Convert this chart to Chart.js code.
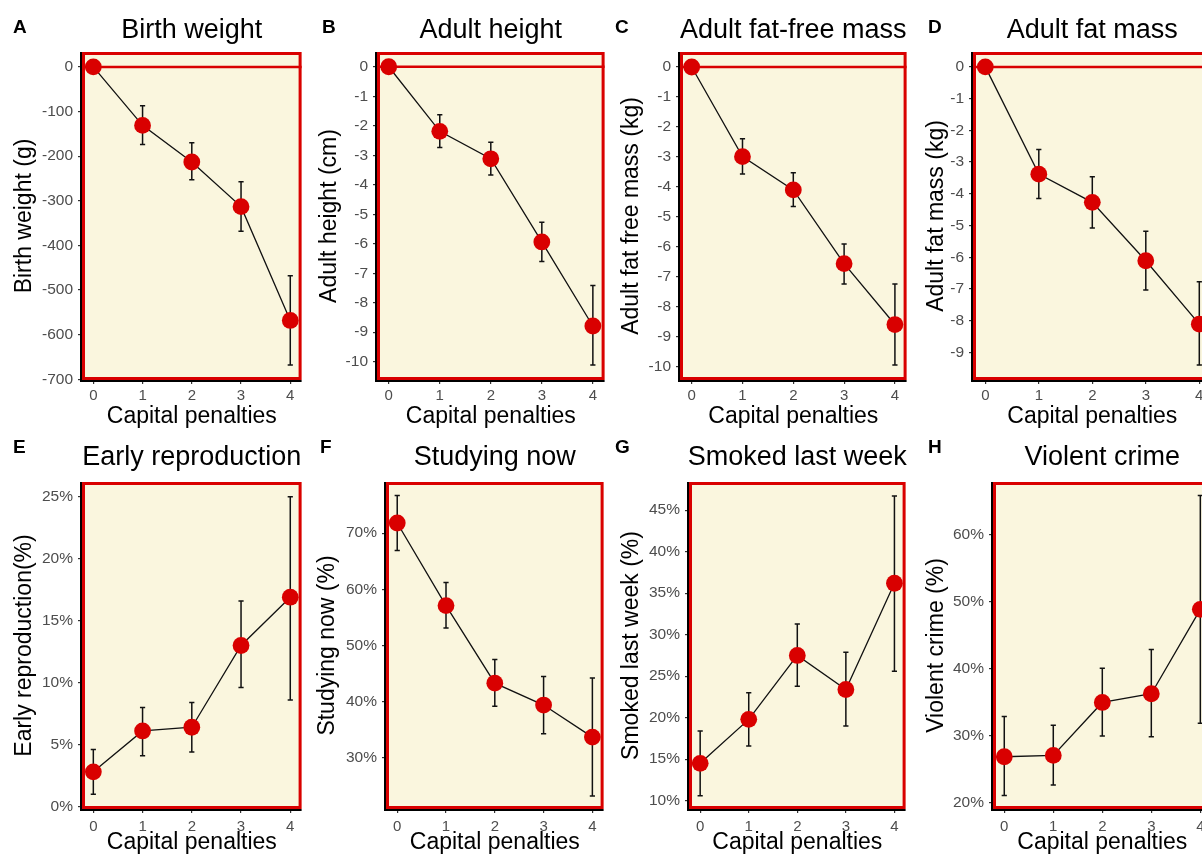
<!DOCTYPE html>
<html><head><meta charset="utf-8">
<script src="https://cdn.jsdelivr.net/npm/chart.js@4/dist/chart.umd.min.js"></script>
<style>
html,body{margin:0;padding:0;background:#fff;overflow:hidden;width:1202px;height:859px;}
#wrap{position:relative;width:1202px;height:859px;overflow:hidden;background:#fff;}
canvas{position:absolute;}
</style></head><body><div id="wrap"></div>
<script>
// ---------- data ----------
const penalties = [0, 1, 2, 3, 4];
const xTickValues = [0, 1, 2, 3, 4];
const xAxisTitle = 'Capital penalties';

const birthWeight      = [0, -131, -213, -313, -568];
const birthWeightHi    = [null, -87, -170, -257, -468];
const birthWeightLo    = [null, -174, -253, -368, -668];
const birthWeightTicks = [0, -100, -200, -300, -400, -500, -600, -700];

const adultHeight      = [0, -2.19, -3.12, -5.94, -8.79];
const adultHeightHi    = [null, -1.63, -2.56, -5.27, -7.42];
const adultHeightLo    = [null, -2.74, -3.67, -6.60, -10.11];
const adultHeightTicks = [0, -1, -2, -3, -4, -5, -6, -7, -8, -9, -10];

const fatFreeMass      = [0, -2.99, -4.10, -6.56, -8.59];
const fatFreeMassHi    = [null, -2.39, -3.53, -5.90, -7.24];
const fatFreeMassLo    = [null, -3.57, -4.65, -7.24, -9.94];
const fatFreeMassTicks = [0, -1, -2, -3, -4, -5, -6, -7, -8, -9, -10];

const fatMass          = [0, -3.38, -4.27, -6.11, -8.11];
const fatMassHi        = [null, -2.60, -3.46, -5.18, -6.77];
const fatMassLo        = [null, -4.15, -5.08, -7.03, -9.40];
const fatMassTicks     = [0, -1, -2, -3, -4, -5, -6, -7, -8, -9];

const earlyRepro       = [2.8, 6.1, 6.4, 13.0, 16.9];
const earlyReproHi     = [4.6, 8.0, 8.4, 16.6, 25.0];
const earlyReproLo     = [1.0, 4.1, 4.4, 9.6, 8.6];
const earlyReproTicks  = [0, 5, 10, 15, 20, 25];

const studyingNow      = [71.8, 57.1, 43.3, 39.4, 33.7];
const studyingNowHi    = [76.7, 61.2, 47.5, 44.5, 44.2];
const studyingNowLo    = [66.9, 53.1, 39.2, 34.3, 23.2];
const studyingNowTicks = [30, 40, 50, 60, 70];

const smoked           = [14.5, 19.8, 27.5, 23.4, 36.2];
const smokedHi         = [18.4, 23.0, 31.3, 27.9, 46.7];
const smokedLo         = [10.6, 16.6, 23.8, 19.0, 25.6];
const smokedTicks      = [10, 15, 20, 25, 30, 35, 40, 45];

const violentCrime     = [26.8, 27.0, 34.9, 36.2, 48.8];
const violentCrimeHi   = [32.8, 31.5, 40.0, 42.8, 65.8];
const violentCrimeLo   = [21.0, 22.6, 29.9, 29.8, 31.8];
const violentCrimeTicks= [20, 30, 40, 50, 60];

// ---------- panel definitions ----------
const panels = [
  {letter:'A', title:'Birth weight', yTitle:'Birth weight (g)', v:birthWeight, hi:birthWeightHi, lo:birthWeightLo, ticks:birthWeightTicks, pct:false, zero:true, ymin:-701.4, ymax:33.4,
   cx:0, cy:0, plot:[82,52,302,380], lx:13, ly:33, ty:38},
  {letter:'B', title:'Adult height', yTitle:'Adult height (cm)', v:adultHeight, hi:adultHeightHi, lo:adultHeightLo, ticks:adultHeightTicks, pct:false, zero:true, ymin:-10.62, ymax:0.5,
   cx:305, cy:0, plot:[377,52,605,380], lx:322, ly:33, ty:38},
  {letter:'C', title:'Adult fat-free mass', yTitle:'Adult fat free mass (kg)', v:fatFreeMass, hi:fatFreeMassHi, lo:fatFreeMassLo, ticks:fatFreeMassTicks, pct:false, zero:true, ymin:-10.44, ymax:0.5,
   cx:607, cy:0, plot:[680,52,907,380], lx:615, ly:33, ty:38},
  {letter:'D', title:'Adult fat mass', yTitle:'Adult fat mass (kg)', v:fatMass, hi:fatMassHi, lo:fatMassLo, ticks:fatMassTicks, pct:false, zero:true, ymin:-9.87, ymax:0.47,
   cx:912, cy:0, plot:[973,52,1212,380], lx:928, ly:33, ty:38},
  {letter:'E', title:'Early reproduction', yTitle:'Early reproduction(%)', v:earlyRepro, hi:earlyReproHi, lo:earlyReproLo, ticks:earlyReproTicks, pct:true, zero:false, ymin:-0.2, ymax:26.2,
   cx:0, cy:430, plot:[82,482,302,809], lx:13, ly:453, ty:465},
  {letter:'F', title:'Studying now', yTitle:'Studying now (%)', v:studyingNow, hi:studyingNowHi, lo:studyingNowLo, ticks:studyingNowTicks, pct:true, zero:false, ymin:20.9, ymax:79.1,
   cx:303, cy:430, plot:[386,482,604,809], lx:320, ly:453, ty:465},
  {letter:'G', title:'Smoked last week', yTitle:'Smoked last week (%)', v:smoked, hi:smokedHi, lo:smokedLo, ticks:smokedTicks, pct:true, zero:false, ymin:9.0, ymax:48.4,
   cx:607, cy:430, plot:[689,482,906,809], lx:615, ly:453, ty:465},
  {letter:'H', title:'Violent crime', yTitle:'Violent crime (%)', v:violentCrime, hi:violentCrimeHi, lo:violentCrimeLo, ticks:violentCrimeTicks, pct:true, zero:false, ymin:19.0, ymax:67.8,
   cx:912, cy:430, plot:[993,482,1212,809], lx:928, ly:453, ty:465}
];

const FONT = "'Liberation Sans', Arial, Helvetica, sans-serif";
const RED = '#d90000';
const BG = '#faf6de';
Chart.defaults.font.family = FONT;

const decor = {
  id: 'decor',
  beforeDraw(chart, args, o) {
    const {ctx, chartArea: a} = chart;
    ctx.save();
    ctx.fillStyle = BG;
    ctx.fillRect(a.left, a.top, a.width, a.height);
    ctx.restore();
  },
  beforeDatasetsDraw(chart, args, o) {
    const {ctx, chartArea: a} = chart;
    const xs = chart.scales.x, ys = chart.scales.y;
    ctx.save();
    if (o.zero) {
      const y0 = ys.getPixelForValue(0);
      ctx.strokeStyle = RED; ctx.lineWidth = 2.5;
      ctx.beginPath(); ctx.moveTo(a.left, y0); ctx.lineTo(a.right, y0); ctx.stroke();
    }
    // red panel border
    ctx.strokeStyle = RED; ctx.lineWidth = 3;
    ctx.strokeRect(a.left + 1.5, a.top + 1.5, a.width - 3, a.height - 3);
    // black axis lines (left and bottom)
    ctx.strokeStyle = '#000'; ctx.lineWidth = 2;
    ctx.beginPath();
    ctx.moveTo(a.left - 1, a.top); ctx.lineTo(a.left - 1, a.bottom + 2);
    ctx.moveTo(a.left - 2, a.bottom + 1); ctx.lineTo(a.right, a.bottom + 1);
    ctx.stroke();
    // error bars
    ctx.strokeStyle = '#111'; ctx.lineWidth = 1.5;
    o.lo.forEach((lo, i) => {
      const hi = o.hi[i];
      if (lo === null || hi === null) return;
      const x = xs.getPixelForValue(o.x[i]);
      const y1 = ys.getPixelForValue(hi), y2 = ys.getPixelForValue(lo);
      ctx.beginPath();
      ctx.moveTo(x, y1); ctx.lineTo(x, y2);
      ctx.moveTo(x - 2.6, y1); ctx.lineTo(x + 2.6, y1);
      ctx.moveTo(x - 2.6, y2); ctx.lineTo(x + 2.6, y2);
      ctx.stroke();
    });
    ctx.restore();
  },
  afterDraw(chart, args, o) {
    const {ctx, chartArea: a} = chart;
    ctx.save();
    ctx.fillStyle = '#000';
    ctx.textBaseline = 'alphabetic';
    ctx.font = 'bold 19px ' + FONT;
    ctx.textAlign = 'left';
    ctx.fillText(o.letter, o.lx, o.ly);
    ctx.font = '27px ' + FONT;
    ctx.textAlign = 'center';
    ctx.fillText(o.title, (a.left + a.right) / 2, o.ty);
    ctx.restore();
  }
};

const wrap = document.getElementById('wrap');
panels.forEach(p => {
  const [pl, pt, pr, pb] = p.plot;
  const cw = pr + 8 - p.cx;
  const ch = (p.cy === 0) ? 430 : 429;
  const cv = document.createElement('canvas');
  cv.width = cw; cv.height = ch;
  cv.style.left = p.cx + 'px'; cv.style.top = p.cy + 'px';
  cv.style.width = cw + 'px'; cv.style.height = ch + 'px';
  wrap.appendChild(cv);
  const yAxisW = pl - p.cx;
  const xAxisH = p.cy + ch - pb;
  const rowTwo = p.cy !== 0;
  new Chart(cv, {
    type: 'line',
    data: {
      datasets: [{
        data: penalties.map((x, i) => ({x: x, y: p.v[i]})),
        borderColor: '#111', borderWidth: 1.3, tension: 0,
        pointRadius: 8.4, pointHoverRadius: 8.4, pointBorderWidth: 0,
        pointBackgroundColor: RED, pointBorderColor: RED,
        clip: false
      }]
    },
    options: {
      responsive: false, animation: false, devicePixelRatio: 1,
      events: [],
      layout: {padding: {left: 0, top: pt - p.cy, right: 8, bottom: 0}},
      plugins: {
        legend: {display: false}, title: {display: false}, tooltip: {enabled: false},
        decor: {zero: p.zero, lo: p.lo, hi: p.hi, x: penalties, letter: p.letter, title: p.title, lx: p.lx - p.cx, ly: p.ly - p.cy, ty: p.ty - p.cy}
      },
      scales: {
        x: {
          type: 'linear', min: -0.23, max: 4.23,
          afterBuildTicks: s => { s.ticks = xTickValues.map(v => ({value: v})); },
          afterFit: s => { s.height = xAxisH; },
          grid: {display: true, drawOnChartArea: false, drawTicks: true, tickLength: 4, color: '#333', lineWidth: 1.2},
          border: {display: false},
          ticks: {color: '#4d4d4d', font: {size: 15}, padding: rowTwo ? 4.5 : 3, autoSkip: false, maxRotation: 0},
          title: {display: true, text: xAxisTitle, color: '#000', font: {size: 23}, padding: {top: 0, bottom: rowTwo ? 3 : 0}}
        },
        y: {
          type: 'linear', min: p.ymin, max: p.ymax,
          afterBuildTicks: s => { s.ticks = p.ticks.map(v => ({value: v})); },
          afterFit: s => { s.width = yAxisW; },
          grid: {display: true, drawOnChartArea: false, drawTicks: true, tickLength: 4, color: '#333', lineWidth: 1.2},
          border: {display: false},
          ticks: {color: '#4d4d4d', font: {size: 15.5}, padding: 5, autoSkip: false,
                  callback: v => p.pct ? (v + '%') : String(v)},
          title: {display: true, text: p.yTitle, color: '#000', font: {size: 23}, padding: {top: 11.2, bottom: 0}}
        }
      }
    },
    plugins: [decor]
  });
});
</script>
</body></html>
